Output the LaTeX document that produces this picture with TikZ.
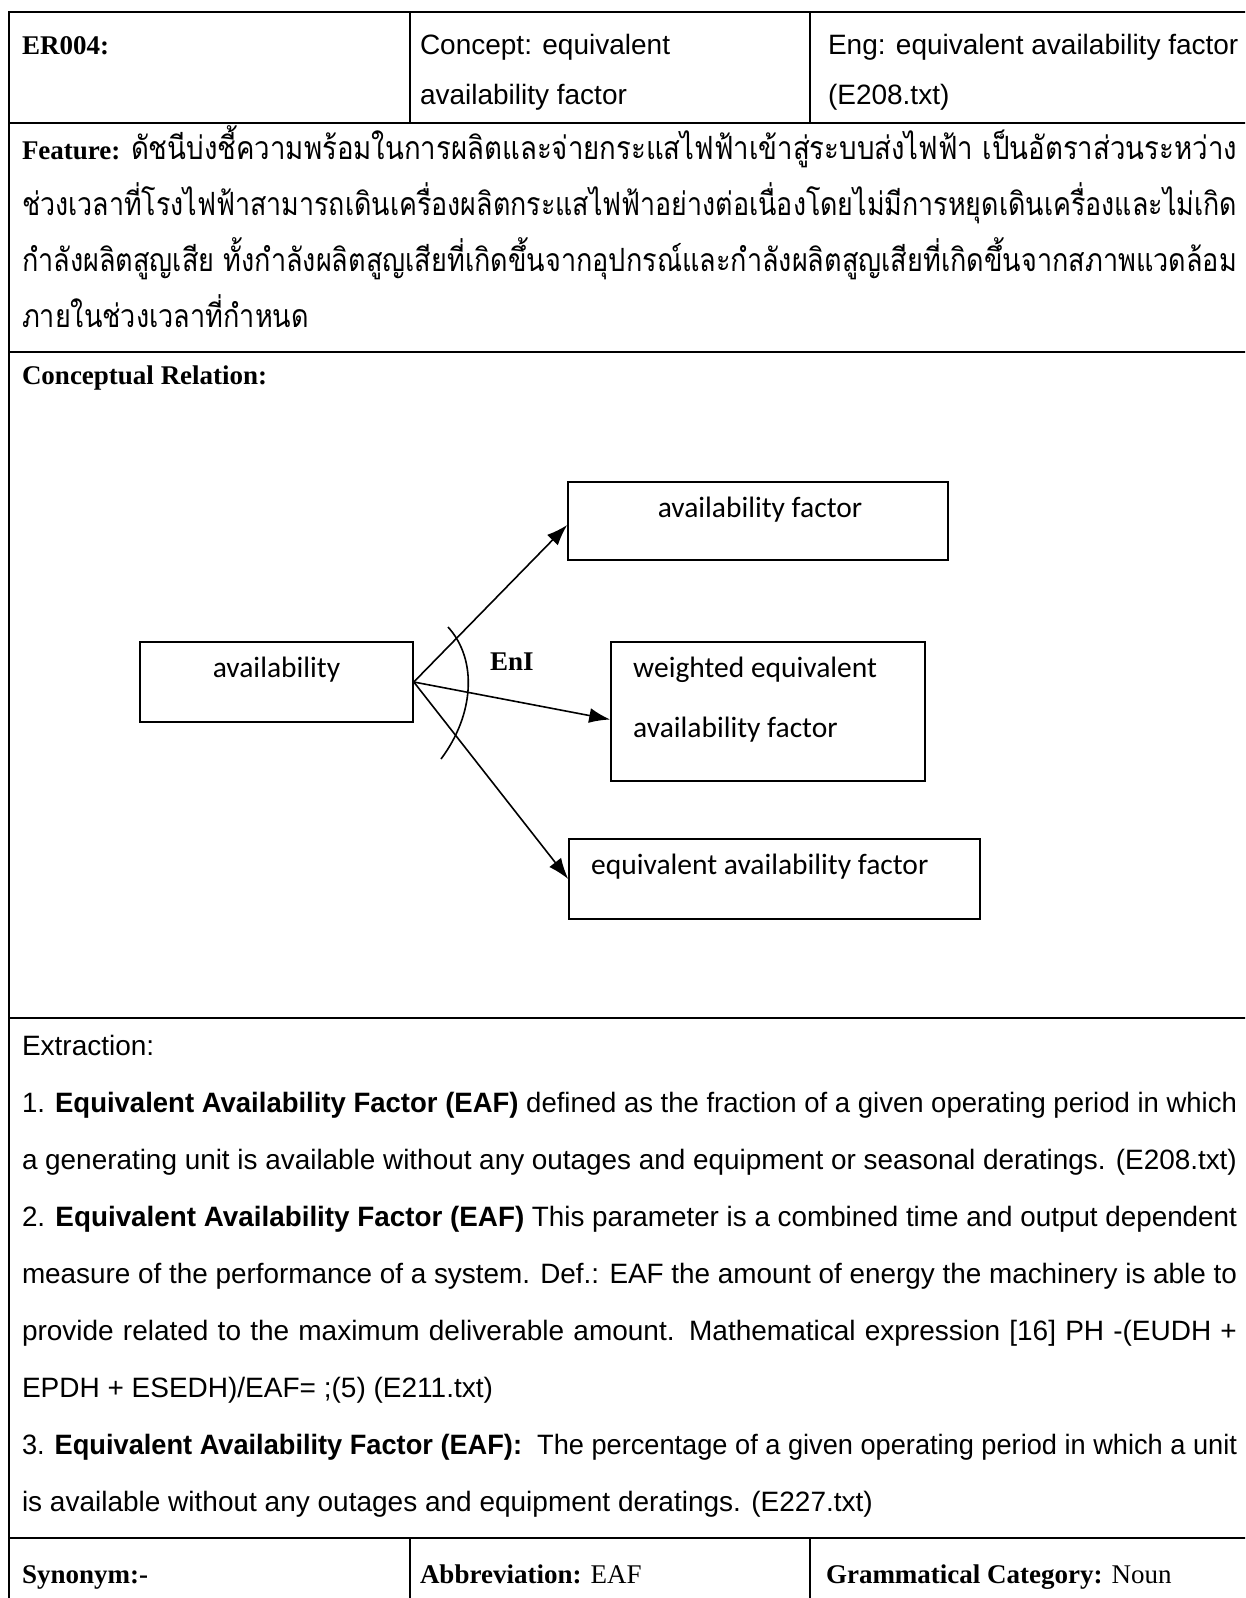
\documentclass[tikz,border=0pt]{standalone}
\usepackage{fontspec}
\usepackage{graphicx}
\usetikzlibrary{arrows.meta}
\setmainfont{Liberation Serif}
\newfontfamily\sansfont{Liberation Sans}
\newfontfamily\boxfont{Carlito}
\newfontfamily\thaifont[Script=Thai]{Loma}

% text sizes
\newcommand\sanstext{\sansfont\fontsize{28}{34}\selectfont}
\newcommand\serifbold{\rmfamily\bfseries\fontsize{27}{33}\selectfont}
\newcommand\thaitext{\thaifont\fontsize{32}{40}\selectfont}

% set a line to an exact width: stretch the spaces, or squeeze if too long
\newsavebox\fitbox
\newcommand\fitto[2]{\sbox\fitbox{#2}%
  \pgfmathsetmacro\fitfactor{#1/\the\wd\fitbox}%
  \global\let\lastfit\fitfactor
  \scalebox{\fitfactor}[1]{\usebox\fitbox}}
\newcommand\justto[2]{\sbox\fitbox{#2}%
  \ifdim\wd\fitbox>#1pt\relax
    \pgfmathsetmacro\fitfactor{#1/\the\wd\fitbox}%
    \scalebox{\fitfactor}[1]{\usebox\fitbox}%
  \else
    \makebox[#1pt][s]{#2}%
  \fi}

\tikzset{
  rowline/.style={line width=2.8pt},
  colline/.style={line width=1.8pt},
  txt/.style={anchor=base west, inner sep=0pt, outer sep=0pt},
  sanslabel/.style={txt, font=\sanstext},
  boldlabel/.style={txt, font=\serifbold},
  concept/.style={draw, line width=1.6pt, inner sep=0pt},
  boxlabel/.style={inner sep=0pt, font=\boxfont\fontsize{29.5}{36}\selectfont},
  rel/.style={line width=1.6pt, -{Latex[length=21pt,width=15pt]}},
}

\begin{document}
\begin{tikzpicture}[x=1pt,y=-1pt]
\useasboundingbox (0,0) rectangle (1245,1598);
\clip (0,0) rectangle (1245,1598);

% ---------- table frame ----------
\draw[colline] (9,12) -- (9,1600);
\foreach \yy in {12,123,352,1018,1538}
  \draw[rowline] (8,\yy) -- (1250,\yy);
\draw[colline] (410,12) -- (410,123);
\draw[colline] (810,12) -- (810,123);
\draw[colline] (410,1538) -- (410,1600);
\draw[colline] (810,1538) -- (810,1600);

% ---------- header row ----------
\node[boldlabel] (id) at (22,54) {ER004:};
\node[sanslabel] (conceptA) at (420,54) {Concept: equivalent};
\node[sanslabel] (conceptB) at (420,104) {availability factor};
\node[sanslabel] (engA) at (828,54) {Eng: equivalent availability factor};
\node[sanslabel] (engB) at (828,104) {(E208.txt)};

% ---------- feature ----------
\node[boldlabel] (feat) at (22,159) {Feature:};
\node[txt] (featA) at (131,159) {\fitto{1106}{\thaitext ดัชนีบ่งชี้ความพร้อมในการผลิตและจ่ายกระแสไฟฟ้าเข้าสู่ระบบส่งไฟฟ้า เป็นอัตราส่วนระหว่าง}};
\node[txt] (featB) at (22,215) {\fitto{1215}{\thaitext ช่วงเวลาที่โรงไฟฟ้าสามารถเดินเครื่องผลิตกระแสไฟฟ้าอย่างต่อเนื่องโดยไม่มีการหยุดเดินเครื่องและไม่เกิด}};
\node[txt] (featC) at (22,271) {\fitto{1215}{\thaitext กำลังผลิตสูญเสีย ทั้งกำลังผลิตสูญเสียที่เกิดขึ้นจากอุปกรณ์และกำลังผลิตสูญเสียที่เกิดขึ้นจากสภาพแวดล้อม}};
\node[txt] (featD) at (22,327) {\scalebox{\lastfit}[1]{\thaitext ภายในช่วงเวลาที่กำหนด}};

% ---------- conceptual relation ----------
\node[boldlabel] (crel) at (22,384) {Conceptual Relation:};

\node[concept, minimum width=273pt, minimum height=80pt] (av) at (276.5,682) {};
\node[concept, minimum width=380pt, minimum height=78pt] (af) at (758,521) {};
\node[concept, minimum width=314pt, minimum height=139pt] (wf) at (768,711.5) {};
\node[concept, minimum width=411pt, minimum height=80pt] (ef) at (774.5,879) {};

\node[boxlabel, anchor=base] (avT) at (276.5,677) {availability};
\node[boxlabel, anchor=base] (afT) at (760,517) {availability factor};
\node[boxlabel, anchor=base west] (wfT1) at (633,677) {weighted equivalent};
\node[boxlabel, anchor=base west] (wfT2) at (633,737) {availability factor};
\node[boxlabel, anchor=base west] (efT) at (591,874) {equivalent availability factor};

\draw[rel] (av.east) -- ([yshift=-4pt]af.west);
\draw[rel] (av.east) -- ([yshift=-8pt]wf.west);
\draw[rel] (av.east) -- (ef.west);
\draw[line width=1.6pt] (448,627) .. controls (478,660) and (474,715) .. (441,759);
\node[boldlabel] (eni) at (490,670) {EnI};

% ---------- extraction ----------
\node[sanslabel] (ex0) at (22,1055) {Extraction:};
\node[sanslabel] (ex1) at (22,1112) {\justto{1215}{1. \textbf{Equivalent Availability Factor (EAF)} defined as the fraction of a given operating period in which}};
\node[sanslabel] (ex2) at (22,1169) {\justto{1215}{a generating unit is available without any outages and equipment or seasonal deratings. (E208.txt)}};
\node[sanslabel] (ex3) at (22,1226) {\justto{1215}{2. \textbf{Equivalent Availability Factor (EAF)} This parameter is a combined time and output dependent}};
\node[sanslabel] (ex4) at (22,1283) {\justto{1215}{measure of the performance of a system. Def.: EAF the amount of energy the machinery is able to}};
\node[sanslabel] (ex5) at (22,1340) {\justto{1215}{provide related to the maximum deliverable amount. Mathematical expression [16] PH -(EUDH +}};
\node[sanslabel] (ex6) at (22,1397) {EPDH + ESEDH)/EAF= ;(5) (E211.txt)};
\node[sanslabel] (ex7) at (22,1454) {\justto{1215}{3. \textbf{Equivalent Availability Factor (EAF):}\ \ The percentage of a given operating period in which a unit}};
\node[sanslabel] (ex8) at (22,1511) {is available without any outages and equipment deratings. (E227.txt)};

% ---------- bottom row ----------
\node[boldlabel] (syn) at (22,1583) {Synonym:-};
\node[boldlabel] (abbr) at (420,1583) {Abbreviation: \mdseries EAF};
\node[boldlabel] (gram) at (826,1583) {Grammatical Category: \mdseries Noun};
\end{tikzpicture}
\end{document}
